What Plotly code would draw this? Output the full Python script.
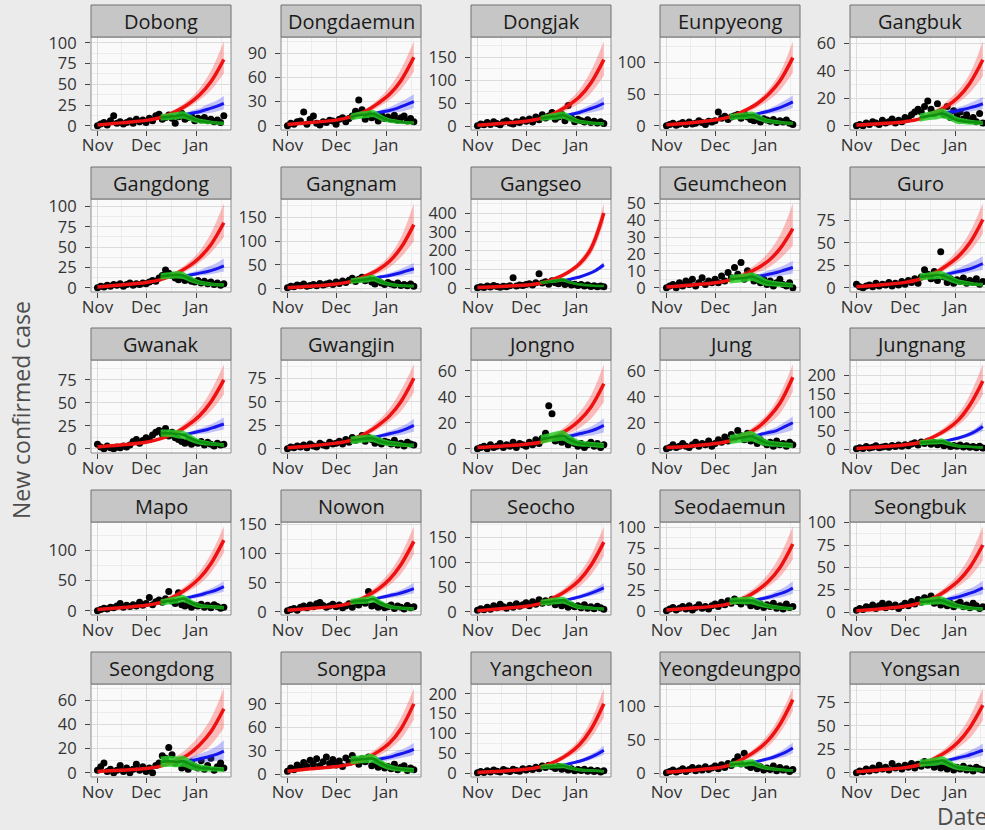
import pandas as pd
import plotly.graph_objects as go

districts = ["Dobong", "Dongdaemun", "Dongjak", "Eunpyeong", "Gangbuk",
             "Gangdong", "Gangnam", "Gangseo", "Geumcheon", "Guro",
             "Gwanak", "Gwangjin", "Jongno", "Jung", "Jungnang",
             "Mapo", "Nowon", "Seocho", "Seodaemun", "Seongbuk",
             "Seongdong", "Songpa", "Yangcheon", "Yeongdeungpo", "Yongsan"]

y_ticks = [[0, 25, 50, 75, 100], [0, 30, 60, 90], [0, 50, 100, 150], [0, 50, 100], [0, 20, 40, 60],
           [0, 25, 50, 75, 100], [0, 50, 100, 150], [0, 100, 200, 300, 400], [0, 10, 20, 30, 40, 50], [0, 25, 50, 75],
           [0, 25, 50, 75], [0, 25, 50, 75], [0, 20, 40, 60], [0, 20, 40, 60], [0, 50, 100, 150, 200],
           [0, 50, 100], [0, 50, 100, 150], [0, 50, 100, 150], [0, 25, 50, 75, 100], [0, 25, 50, 75, 100],
           [0, 20, 40, 60], [0, 30, 60, 90], [0, 50, 100, 150, 200], [0, 50, 100], [0, 25, 50, 75]]

x_tick_dates = ["2020-11-01", "2020-12-01", "2021-01-01"]
x_tick_labels = ["Nov", "Dec", "Jan"]
x_minor_dates = ["2020-11-16", "2020-12-16 12:00", "2021-01-16 12:00"]

# observed daily cases, every second day from 2020-11-01 to 2021-01-18
dot_dates = pd.date_range("2020-11-01", periods=40, freq="2D")
dots = [
    [0,2,4,1,6,12,3,5,2,4,6,3,8,5,7, 4,9,6,12,14,8,10,13,9,3,11,15,8,10,12,6, 9,7,10,6,8,5,7,4,12],
    [0,3,2,5,6,17,2,8,12,3,1,5,4,7,6, 2,8,10,5,9,12,18,32,20,8,15,10,12,6,14,9, 11,8,13,7,10,12,6,9,5],
    [1,5,3,8,4,10,6,3,9,12,7,5,10,8,14, 11,16,9,20,14,25,18,22,30,15,20,26,12,45,18,10, 15,12,9,14,8,11,7,10,6],
    [0,2,4,1,3,5,2,6,3,4,8,5,2,7,6, 8,22,12,15,10,14,16,18,12,20,14,10,8,13,6,11, 9,7,10,5,8,6,9,4,2],
    [0,1,0,2,1,3,2,1,4,2,3,5,2,4,3, 6,5,8,10,12,10,14,18,12,9,16,10,8,14,6,11, 7,10,5,8,4,6,3,9,2],
    [0,2,1,3,2,4,3,5,2,4,6,3,5,4,6, 5,7,9,8,12,15,22,18,15,12,10,13,9,11,8,7, 9,6,8,5,7,4,6,3,5],
    [2,5,4,8,6,10,5,7,9,6,11,8,10,12,9, 14,11,16,13,18,22,15,20,24,17,21,14,10,16,12,9, 13,10,8,12,7,9,6,10,5],
    [3,8,5,12,7,15,10,6,11,9,14,56,12,18,15, 20,25,18,30,77,28,35,22,40,30,25,35,20,28,18,22, 15,20,12,18,10,14,8,12,9],
    [0,1,2,0,3,1,4,2,5,1,3,6,2,4,3, 5,3,7,4,9,6,12,8,15,5,10,7,4,6,3,5, 2,4,1,3,5,2,1,3,0],
    [4,1,0,2,3,1,5,2,4,3,6,2,5,3,7, 4,8,6,10,5,12,20,15,10,18,8,40,12,6,10,5, 9,7,11,5,8,6,10,4,7],
    [5,2,0,3,1,0,2,1,3,2,4,8,10,6,9, 12,10,15,18,20,16,22,14,18,12,10,8,6,9,5,7, 6,8,4,7,5,3,6,4,5],
    [0,2,1,3,2,4,1,5,3,2,6,4,3,7,5, 6,8,5,10,7,12,9,11,14,8,12,10,6,9,5,8, 7,5,9,4,6,3,7,5,4],
    [0,1,2,0,3,1,2,4,1,3,2,5,1,4,3, 2,5,3,7,4,8,12,33,27,6,9,5,7,3,6,4, 2,4,1,3,5,2,4,1,3],
    [0,1,3,1,2,4,2,1,3,5,2,4,3,6,2, 4,7,5,9,6,11,8,14,10,7,12,6,9,4,7,5, 3,5,2,6,3,4,2,5,3],
    [2,5,3,8,4,6,10,5,7,9,6,11,8,12,9, 13,10,15,18,12,20,16,22,14,19,13,17,10,14,8,11, 9,12,7,10,6,8,5,9,4],
    [0,2,4,3,6,5,8,12,6,9,7,10,8,14,9, 12,22,10,15,18,14,20,32,16,12,30,10,8,13,6,9, 8,11,6,9,5,10,7,4,6],
    [2,4,6,3,8,10,7,12,9,14,16,11,8,10,13, 9,12,7,10,14,8,16,12,18,15,35,10,12,8,11,7, 9,12,6,10,8,5,11,7,9],
    [3,6,4,9,5,12,8,15,10,7,13,9,16,11,14, 18,12,20,15,24,17,22,19,25,14,18,12,16,9,13,10, 12,8,14,7,10,6,11,8,5],
    [1,3,5,2,4,6,3,7,2,5,8,4,6,3,7, 9,6,11,8,13,10,15,12,9,14,11,7,10,6,9,5, 8,6,10,4,7,3,9,5,6],
    [2,4,3,6,5,8,4,7,10,5,9,6,8,4,7, 10,7,12,9,14,11,16,13,18,10,14,8,12,7,10,6, 9,11,6,8,5,10,7,4,6],
    [2,5,8,1,3,0,2,6,1,4,0,3,7,2,5, 1,4,0,6,8,14,12,21,15,8,10,4,7,3,9,5, 4,10,3,6,12,2,5,8,4],
    [4,8,6,12,9,15,10,18,13,20,11,16,22,14,19, 12,17,10,21,15,24,18,13,20,16,22,11,14,9,12,8, 10,7,13,6,9,11,5,8,6],
    [1,4,2,6,3,8,5,3,9,6,4,10,7,5,11, 8,12,9,15,11,18,14,20,16,12,17,10,13,8,11,6, 9,7,10,5,8,4,7,3,6],
    [1,3,5,2,4,7,3,6,9,4,8,5,10,6,8, 11,7,13,9,15,12,18,25,14,30,12,9,13,7,10,5, 8,6,11,4,9,5,7,3,6],
    [0,2,1,4,2,5,3,8,4,6,3,10,5,7,4, 8,6,10,5,9,7,12,8,11,6,10,5,8,4,7,3, 6,4,7,3,5,2,6,4,3],
]

# red: current-trend projection
red_dates = ["2020-11-01", "2020-11-15", "2020-12-01", "2020-12-10", "2020-12-20",
             "2020-12-27", "2021-01-03", "2021-01-10", "2021-01-18"]
red_band_dates = red_dates[3:]
red_mid = [
    [1,3.5,6.5,10,18,26,37,53,80], [1.5,4,7,11,19,28,39,56,85], [2,6,11,17,31,45,64,94,145],
    [1.5,4.5,9,14,25,35,50,71,108], [0.5,1.5,3,5,10,14.5,21,31,48],
    [1,3.5,6.5,10,18,26,37,53,80], [2,5,10,15,28,40,58,86,135], [5,10,18,27,55,85,130,210,400],
    [0.5,1.5,3,4.5,8,11.5,16,23,35], [1,3,6,9.5,17,25,35,50,76],
    [2,4,7,11,18,26,36,51,75], [1,3,6,9,17,25,35,50,75], [1,2,3.5,5,10,15,22,32,50],
    [1,2,4,6,11,16,24,35,55], [3,7,13,19,37,55,80,120,185],
    [2,5,9,14,26,38,54,78,117], [3,6,10,15,27,39,56,81,121], [2,6,11,17,31,45,64,93,140],
    [2,4,6.5,9.5,17,25,36,52,80], [1.5,3.5,6.5,10,17,25,35,50,75],
    [1,2,3.5,5.5,10,15,23,34,53], [4,7,10,13,21,29,40,58,90], [2,5,10,16,31,48,72,110,175],
    [2,4.5,8,12.5,24,35,50,73,110], [1,3,5.5,8.5,16,23,33,48,72],
]
red_hi = [
    [11,21,31,45,66,102], [12,22,33,48,70,105], [19,36,55,80,120,185], [15,28,40,58,84,134], [6,12,18,26,38,61.5],
    [11,21,31,45,67,104], [17,33,48,70,108,180], [30,62,96,148,240,452], [5.5,10,14.5,21,31,50], [10.5,20,30,43,62,94],
    [12,21,31,44,63,92], [10,20,30,43,62,90], [6,12.5,19,28,41,65], [7,13,19.5,28,42,65], [22,44,66,98,148,230],
    [16,31,45,65,94,140], [17,32,47,68,98,147], [19,37,54,78,113,172], [11,21,31,45,66,101], [11,20,30,43,63,96],
    [6.5,14,21,31,45,70], [15,25,35,49,72,110], [18,37,57,86,132,214], [14,28,41,59,86,127], [9.5,19,28,41,60,90],
]
red_lo = [
    [9,15.5,22,31,43,63], [10,16,23,32,45,67], [15,26,36,50,72,110], [13,21,29,40,56,84], [4.5,8.5,12,17,24,36],
    [9,15.5,22,31,43,62], [13,23,32,45,66,100], [24,48,74,112,180,350], [3.8,6.5,9,12,17,25], [8.5,14.5,21,29,40,60],
    [10,16,22,30,41,59], [8,14.5,21,29,40,60], [4,8,11.5,16,23,36], [5,9,13,19,27,44], [16,31,46,66,96,148],
    [12,22,32,44,63,96], [13,23,33,46,65,99], [15,26,37,51,74,112], [8.5,14.5,21,30,41,62], [9,14.5,21,29,39,58],
    [4.5,7.5,10.5,15.5,23,37], [11,17.5,23,32,45,70], [14,26,40,58,88,140], [11,20,29,41,60,93], [7.5,13.5,19,27,37,56],
]

# blue: intermediate scenario
blue_dates = ["2020-12-24", "2020-12-29", "2021-01-03", "2021-01-08", "2021-01-13", "2021-01-18"]
blue_mid = [
    [13,15,17,20,23,27], [15,17,19,22,26,30], [22,26,30,36,42,50], [17,20,23,27,32,38], [9,10,11,12.5,14,16],
    [14,16,18,20,23,27], [22,25,28,32,37,42], [40,50,60,75,95,125], [6,7,8,9,10.5,12], [14,16,18,20,23,27],
    [15,17,19,21,24,27], [12,14,16,18,21,25], [9,10,11.5,13,15,18], [9,11,12.5,14,17,20], [22,26,31,38,48,62],
    [20,23,26,30,34,40], [22,25,28,31,35,40], [22,26,30,35,41,48], [13,15,17,20,23,28], [13,15,17,20,23,27],
    [9,10,11.5,13,15,18], [18,20,22,25,28,32], [20,25,30,37,46,58], [16,19,22,26,31,38], [12,14,16,18,21,24],
]
blue_hi = [
    [14,18,21,26,30,36], [16,20,23,28,33,39], [24,30,36,44,53,64], [18,23,27,33,40,48], [10,12,13.5,15.5,18,21],
    [15,19,22,26,30,36], [24,29,33,39,46,54], [42,54,66,83,106,140], [7,8.5,10,11.5,13.5,16], [15,19,22,26,30,35],
    [16,19,22,25,29,34], [13,16,19,22,26,32], [10,12,14,16,19,23.5], [10,12.5,14.5,17,20.5,25], [24,29,35,44,56,75],
    [22,26,30,35,41,49], [24,28,32,36,42,50], [24,29,34,40,48,58], [14,17,20,24,29,36], [14,18,21,25,29,35],
    [10,13,15.5,18,21.5,27], [20,23,26,30,34,40], [22,28,34,43,54,70], [17,21,25,30,37,46], [13,16,19,22,26,31],
]
blue_lo = [
    [12,13,14,15,17,20], [14,15,16,17,19,22], [20,22,25,28,32,37], [16,17,19,21,24,28], [8,8.5,9,10,11,12],
    [13,14,15,16,18,20], [20,22,24,26,29,32], [38,46,54,67,84,110], [5,5.5,6,6.5,7.5,8.5], [13,14,15,16,18,20],
    [14,15,16,17,19,21], [11,12,13,14,16,18], [8,8.5,9,10,11,12.5], [8,9,10,11,12.5,14.5], [20,23,27,32,40,50],
    [18,20,22,25,28,32], [20,22,24,26,29,32], [20,23,26,30,34,39], [12,13,14,16,18,21], [12,13,14,16,18,20],
    [8,8,8.5,9,10,11], [16,17,18,20,22,25], [18,22,26,31,38,47], [15,17,19,22,25,30], [11,12,13,14,16,18],
]

# green: strengthened-distancing scenario
green_dates = ["2020-12-10", "2020-12-15", "2020-12-20", "2020-12-24", "2020-12-28",
               "2021-01-02", "2021-01-08", "2021-01-13", "2021-01-18"]
green_mid = [
    [10,11,12,13,10,6,4.5,3.5,3], [11,13,14,15,11,7,5,4,3.5], [17,20,22,24,18,11,8,6,5],
    [14,15,16,17,13,8,6,4.5,4], [6,7,8,9,7,4,3,2.5,2],
    [14,15,16,15,11,7,5,4,3.5], [16,18,20,22,16,10,7,6,5.5], [30,35,40,45,32,22,16,13,12],
    [5,5.5,6,6.5,5,3,2.2,1.8,1.5], [12,13,14,14,11,7,5,4,3.5],
    [17,17,16,15,12,8,6,5,4], [9,10,11,11,8,6,5,4,3.5], [7,8.5,9.5,10,7,4.5,3.5,3,2.5],
    [7,8,9,9.5,7,4.5,3.5,3,2.5], [18,20,21,22,16,10,8,6.5,5.5],
    [14,16,18,20,15,9,7,6,5], [17,19,20,22,16,10,7,6,5], [18,20,22,23,17,10,8,6.5,5.5],
    [12,13,13,13,10,7,5,4,3.5], [11,12,13,13,10,7,5,4,3.5],
    [9,9.5,9,9.5,7,4.5,3.5,3,2.5], [18,19,20,20,15,10,7,6,5], [15,17,18,19,14,9,7,6,5],
    [13,14,15,16,12,8,6,5,4.5], [10,11,12,13,10,6,4.5,3.5,3],
]
green_hi = [
    [14,15,16.5,17.5,14,9,7,5.5,5], [15,17.5,18.5,19.5,15,10,7.5,6,5.5], [23,27,30,32,25,16,12,9.5,8.5],
    [19,20,21.5,22.5,18,11.5,9,7,6.5], [9,10,11.5,12.5,10,6.5,5,4,3.5],
    [18,19,20.5,19.5,15,10,7.5,6,5.5], [22,24,27,29,22,14,10.5,9,8.5], [37,43,49,55,40,28,21,17,16],
    [7.5,8,8.5,9,7.5,5,3.8,3.2,2.8], [16,17,18.5,18.5,15,10,7.5,6,5.5],
    [21,21,20.5,19.5,16,11,8.5,7,6], [13,14,15,15,12,9,7.5,6,5.5], [10.5,12,13.5,14,10.5,7,5.5,5,4.5],
    [10.5,11.5,13,13.5,10.5,7,5.5,5,4.5], [25,27,28.5,29.5,22,14.5,11.5,9.5,8.5],
    [19,21.5,24,26,20,13,10,9,8], [22,24.5,26,28,21,14,10,9,8], [24,26.5,29,30,23,14.5,11.5,9.5,8.5],
    [16,17,17.5,17.5,14,10,7.5,6,5.5], [15,16,17.5,17.5,14,10,7.5,6,5.5],
    [13.5,14,13.5,14,11,7.5,6,5,4.5], [23,24,25.5,25.5,20,14,10,9,8], [21,23,24.5,25.5,19.5,13,10.5,9,8],
    [17.5,18.5,20,21,16,11,8.5,7,6.5], [14,15,16.5,17.5,14,9,7,5.5,5],
]
green_lo = [
    [6,7,7.5,8.5,6,3,2,1.5,1], [7,8.5,9.5,10.5,7,4,2.5,2,1.5], [11,13,14,16,11,6,4,2.5,1.5],
    [9,10,10.5,11.5,8,4.5,3,2,1.5], [3,4,4.5,5.5,4,1.5,1,0.8,0.5],
    [10,11,11.5,10.5,7,4,2.5,2,1.5], [10,12,13,15,10,6,3.5,3,2.5], [23,27,31,35,24,16,11,9,8],
    [2.5,3,3.5,4,2.5,1,0.6,0.4,0.2], [8,9,9.5,9.5,7,4,2.5,2,1.5],
    [13,13,11.5,10.5,8,5,3.5,3,2], [5,6,7,7,4.5,3,2.5,2,1.5], [3.5,5,5.5,6,3.5,2,1.5,1,0.5],
    [3.5,4.5,5,5.5,3.5,2,1.5,1,0.5], [11,13,13.5,14.5,10,5.5,4.5,3.5,2.5],
    [9,10.5,12,14,10,5,4,3,2], [12,13.5,14,16,11,6,4,3,2], [12,13.5,15,16,11,5.5,4.5,3.5,2.5],
    [8,9,8.5,8.5,6,4,2.5,2,1.5], [7,8,8.5,8.5,6,4,2.5,2,1.5],
    [4.5,5,4.5,5,3,1.5,1,1,0.5], [13,14,14.5,14.5,10,6,4,3,2], [9,11,11.5,12.5,8.5,5,3.5,3,2],
    [8.5,9.5,10,11,8,5,3.5,3,2.5], [6,7,7.5,8.5,6,3,2,1.5,1],
]

# ---------------- layout constants (pixels) ----------------
W, H = 985, 830
col_left = [91, 281, 471, 660, 850]
strip_top = [5, 167, 328, 490, 652]
panel_w, strip_h, panel_h = 140, 32, 93
x_start = pd.Timestamp("2020-10-28")
x_end = pd.Timestamp("2021-01-22 10:00")

FONT = "Open Sans"
fig = go.Figure()
shapes, annotations = [], []

RED, BLUE, GREEN = "#ee1111", "#1515ee", "#0f8f0f"
RED_F, BLUE_F, GREEN_F = "rgba(255,70,70,0.35)", "rgba(70,70,255,0.32)", "rgba(40,205,40,0.85)"


def band(xs, lo, hi, color, ax, ay):
    fig.add_trace(go.Scatter(x=xs, y=lo, mode="lines", line=dict(width=0, shape="spline"),
                             xaxis=ax, yaxis=ay, showlegend=False, hoverinfo="skip"))
    fig.add_trace(go.Scatter(x=xs, y=hi, mode="lines", line=dict(width=0, shape="spline"),
                             fill="tonexty", fillcolor=color,
                             xaxis=ax, yaxis=ay, showlegend=False, hoverinfo="skip"))


for i, name in enumerate(districts):
    r, c = divmod(i, 5)
    sfx = "" if i == 0 else str(i + 1)
    ax, ay = "x" + sfx, "y" + sfx
    px0 = col_left[c]
    px1 = min(px0 + panel_w, W)
    ptop = strip_top[r] + strip_h
    pbot = ptop + panel_h
    frac = (px1 - px0) / panel_w
    xr_end = x_start + (x_end - x_start) * frac

    fig.add_trace(go.Scatter(x=dot_dates, y=dots[i], mode="markers",
                             marker=dict(color="black", size=7),
                             xaxis=ax, yaxis=ay, showlegend=False))
    band(red_band_dates, red_lo[i], red_hi[i], RED_F, ax, ay)
    fig.add_trace(go.Scatter(x=red_dates, y=red_mid[i], mode="lines",
                             line=dict(color=RED, width=3.5, shape="spline"),
                             xaxis=ax, yaxis=ay, showlegend=False))
    band(blue_dates, blue_lo[i], blue_hi[i], BLUE_F, ax, ay)
    fig.add_trace(go.Scatter(x=blue_dates, y=blue_mid[i], mode="lines",
                             line=dict(color=BLUE, width=3, shape="spline"),
                             xaxis=ax, yaxis=ay, showlegend=False))
    band(green_dates, green_lo[i], green_hi[i], GREEN_F, ax, ay)
    fig.add_trace(go.Scatter(x=green_dates, y=green_mid[i], mode="lines",
                             line=dict(color=GREEN, width=2.5, shape="spline"),
                             xaxis=ax, yaxis=ay, showlegend=False))

    # y scale: data range with 5% expansion (ggplot default)
    allv = dots[i] + red_mid[i] + red_hi[i] + red_lo[i] + blue_hi[i] + blue_lo[i] + green_hi[i] + green_lo[i]
    lo_v, hi_v = min(allv), max(allv)
    span = hi_v - lo_v
    yr = [lo_v - 0.05 * span, hi_v + 0.05 * span]
    yt = y_ticks[i]
    step = yt[1] - yt[0]
    yminor = [yt[0] - step / 2] + [v + step / 2 for v in yt]

    fig.layout["xaxis" + sfx] = dict(
        domain=[px0 / W, px1 / W], anchor=ay, type="date", automargin=False,
        range=[x_start, xr_end], tickmode="array", tickvals=x_tick_dates, ticktext=x_tick_labels,
        ticks="outside", ticklen=5, tickcolor="#444", tickwidth=1, ticklabelstandoff=-5,
        tickfont=dict(family=FONT, size=17, color="#333"),
        showgrid=True, gridcolor="#dcdcdc", gridwidth=1, zeroline=False, showline=False,
        minor=dict(tickmode="array", tickvals=x_minor_dates, showgrid=True, gridcolor="#ececec", gridwidth=1),
        fixedrange=True)
    fig.layout["yaxis" + sfx] = dict(
        domain=[1 - pbot / H, 1 - ptop / H], anchor=ax, automargin=False,
        range=yr, tickmode="array", tickvals=yt,
        ticks="outside", ticklen=5, tickcolor="#444", tickwidth=1, ticklabelstandoff=5,
        tickfont=dict(family=FONT, size=16.5, color="#333"),
        showgrid=True, gridcolor="#dcdcdc", gridwidth=1, zeroline=False, showline=False,
        minor=dict(tickmode="array", tickvals=yminor, showgrid=True, gridcolor="#ececec", gridwidth=1),
        fixedrange=True)

    shapes.append(dict(type="rect", xref="paper", yref="paper", layer="above",
                       x0=px0 / W, x1=(px0 + panel_w) / W, y0=1 - pbot / H, y1=1 - ptop / H,
                       line=dict(color="#8c8c8c", width=1), fillcolor="rgba(0,0,0,0)"))
    shapes.append(dict(type="rect", xref="paper", yref="paper", layer="above",
                       x0=px0 / W, x1=(px0 + panel_w) / W,
                       y0=1 - (strip_top[r] + strip_h) / H, y1=1 - strip_top[r] / H,
                       line=dict(color="#707070", width=1), fillcolor="#c6c6c6"))
    annotations.append(dict(xref="paper", yref="paper", showarrow=False,
                            x=(px0 + panel_w / 2) / W, y=1 - (strip_top[r] + strip_h / 2) / H,
                            xanchor="center", yanchor="middle", text=name,
                            font=dict(family=FONT, size=20, color="#1a1a1a")))

annotations.append(dict(xref="paper", yref="paper", showarrow=False, x=21 / W, y=1 - 410 / H,
                        xanchor="center", yanchor="middle", textangle=-90, text="New confirmed case",
                        font=dict(family=FONT, size=23, color="#4d4d4d")))
annotations.append(dict(xref="paper", yref="paper", showarrow=False, x=990 / W, y=1 - 816 / H,
                        xanchor="right", yanchor="middle", text="Date",
                        font=dict(family=FONT, size=23, color="#4d4d4d")))

fig.update_layout(width=W, height=H, margin=dict(l=0, r=0, t=0, b=0, autoexpand=False),
                  paper_bgcolor="#ebebeb", plot_bgcolor="#fafafa",
                  shapes=shapes, annotations=annotations, showlegend=False,
                  font=dict(family=FONT))

fig.write_html("out.html", config={"displayModeBar": False},
               post_script="document.body.style.margin='0';document.body.style.overflow='hidden';")
